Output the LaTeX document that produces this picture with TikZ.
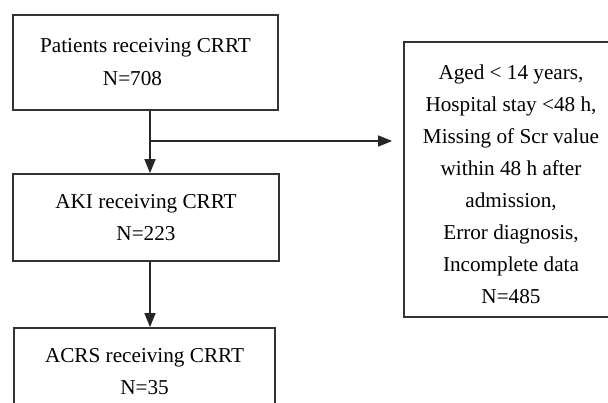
\documentclass[tikz,border=0pt]{standalone}
\usepackage{fontspec}
\setmainfont{Liberation Serif}
\usetikzlibrary{arrows.meta}
\begin{document}
\begin{tikzpicture}[x=0.5pt,y=-0.5pt,
  box/.style={draw=black!80, line width=0.85pt, align=center, inner sep=0pt},
  txt/.style={font=\fontsize{10.6pt}{#1}\selectfont},
  conn/.style={draw=black!85, line width=0.7pt},
  arr/.style={conn, -{Triangle[length=7pt,width=5.5pt]}}]
\useasboundingbox (0,0) rectangle (608,402);
\clip (0,0) rectangle (608,402);
\node[box, txt=16.5pt, minimum width=132.5pt, minimum height=47.5pt] (b1) at (145.5,62.5)
  {Patients receiving CRRT\\N=708\hspace*{13pt}};
\node[box, txt=16pt, minimum width=133pt, minimum height=43.5pt] (b2) at (146,217.5)
  {AKI receiving CRRT\\N=223};
\node[box, txt=16pt, minimum width=130.5pt, minimum height=44pt] (b4) at (144.5,372)
  {ACRS receiving CRRT\\N=35};
\node[box, txt=16pt, minimum width=107pt, minimum height=137.5pt] (b3) at (511,179.5)
  {\rule{0pt}{12.4pt}Aged < 14 years,\\Hospital stay <48 h,\\Missing of Scr value\\within 48 h after\\admission,\\Error diagnosis,\\Incomplete data\\N=485};
\coordinate (j) at (150,141);
\draw[conn] (b1.south -| j) -- (j);
\draw[arr] (j) -- (b2.north -| j);
\draw[arr] (j) -- ([xshift=-5.5pt]b3.west |- j);
\draw[arr] (b2.south -| j) -- (b4.north -| j);
\end{tikzpicture}
\end{document}
